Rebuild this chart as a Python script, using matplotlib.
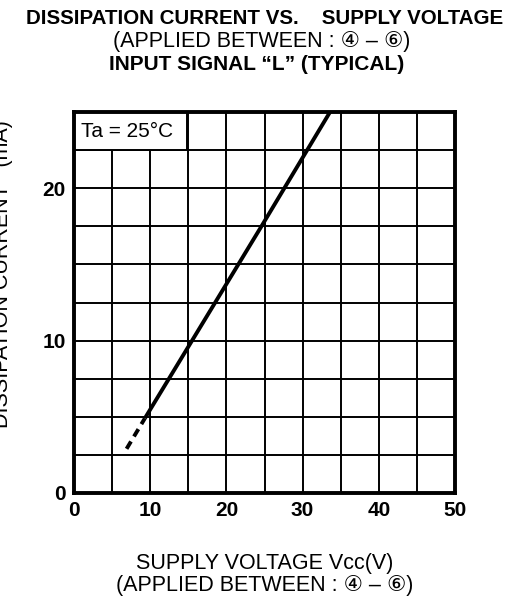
import matplotlib
matplotlib.use("Agg")
import matplotlib.pyplot as plt
from matplotlib.patches import Rectangle
import numpy as np

# Data
vcc_solid = [9.3, 24.6, 33.6]
icc_solid = [4.9, 17.5, 25.0]
vcc_dashed = [6.9, 9.3]
icc_dashed = [2.9, 4.9]

x_ticks = [0, 10, 20, 30, 40, 50]
y_ticks = [0, 10, 20]
x_grid = np.arange(0, 50.1, 5)
y_grid = np.arange(0, 25.1, 2.5)

FAM = ['Liberation Sans', 'DejaVu Sans', 'Noto Sans CJK JP']
plt.rcParams['font.family'] = FAM

fig = plt.figure(figsize=(5.23, 6.01), dpi=100)
ax = fig.add_axes([74/523, 1-493/601, (455-74)/523, (493-112)/601])

ax.set_xlim(0, 50)
ax.set_ylim(0, 25)
for xv in x_grid:
    ax.axvline(xv, color='black', lw=1.4, zorder=1)
for yv in y_grid:
    ax.axhline(yv, color='black', lw=1.4, zorder=1)

ax.plot(vcc_solid, icc_solid, color='black', lw=2.8, zorder=4, solid_capstyle='butt')
ax.plot(vcc_dashed, icc_dashed, color='black', lw=2.8, zorder=4, ls=(0, (2.2, 1.5)))

# Ta box
ax.add_patch(Rectangle((0, 22.5), 14.8, 2.5, facecolor='white', edgecolor='black',
                       lw=1.4, zorder=3))
ax.text(0.9, 23.75, 'Ta = 25°C', fontsize=15, va='center', ha='left', zorder=5)

for s in ax.spines.values():
    s.set_linewidth(2.8)
    s.set_zorder(6)

ax.set_xticks(x_ticks)
ax.set_yticks(y_ticks)
ax.set_xticklabels([str(v) for v in x_ticks], fontsize=15, fontweight='bold')
ax.set_yticklabels([str(v) for v in y_ticks], fontsize=15, fontweight='bold')
ax.tick_params(length=0, pad=6)

# titles
fig.text(265/523, 1-18/601, 'DISSIPATION CURRENT VS.    SUPPLY VOLTAGE', ha='center', va='center',
         fontsize=14.8, fontweight='bold')
fig.text(262/523, 1-42/601, '(APPLIED BETWEEN : ④ – ⑥)', ha='center', va='center', fontsize=15.5)
fig.text(257/523, 1-65/601, 'INPUT SIGNAL “L” (TYPICAL)', ha='center', va='center',
         fontsize=15, fontweight='bold')

# x label
fig.text(265/523, 1-564/601, 'SUPPLY VOLTAGE Vcc(V)', ha='center', va='center', fontsize=15.5)
fig.text(265/523, 1-586/601, '(APPLIED BETWEEN : ④ – ⑥)', ha='center', va='center', fontsize=15.5)

# y label (partially cut off at the left edge, as in the reference)
fig.text(3/523, 1-274/601, 'DISSIPATION CURRENT   (mA)', ha='center', va='center',
         rotation=90, fontsize=15.5)

fig.savefig('out.png', dpi=100)
